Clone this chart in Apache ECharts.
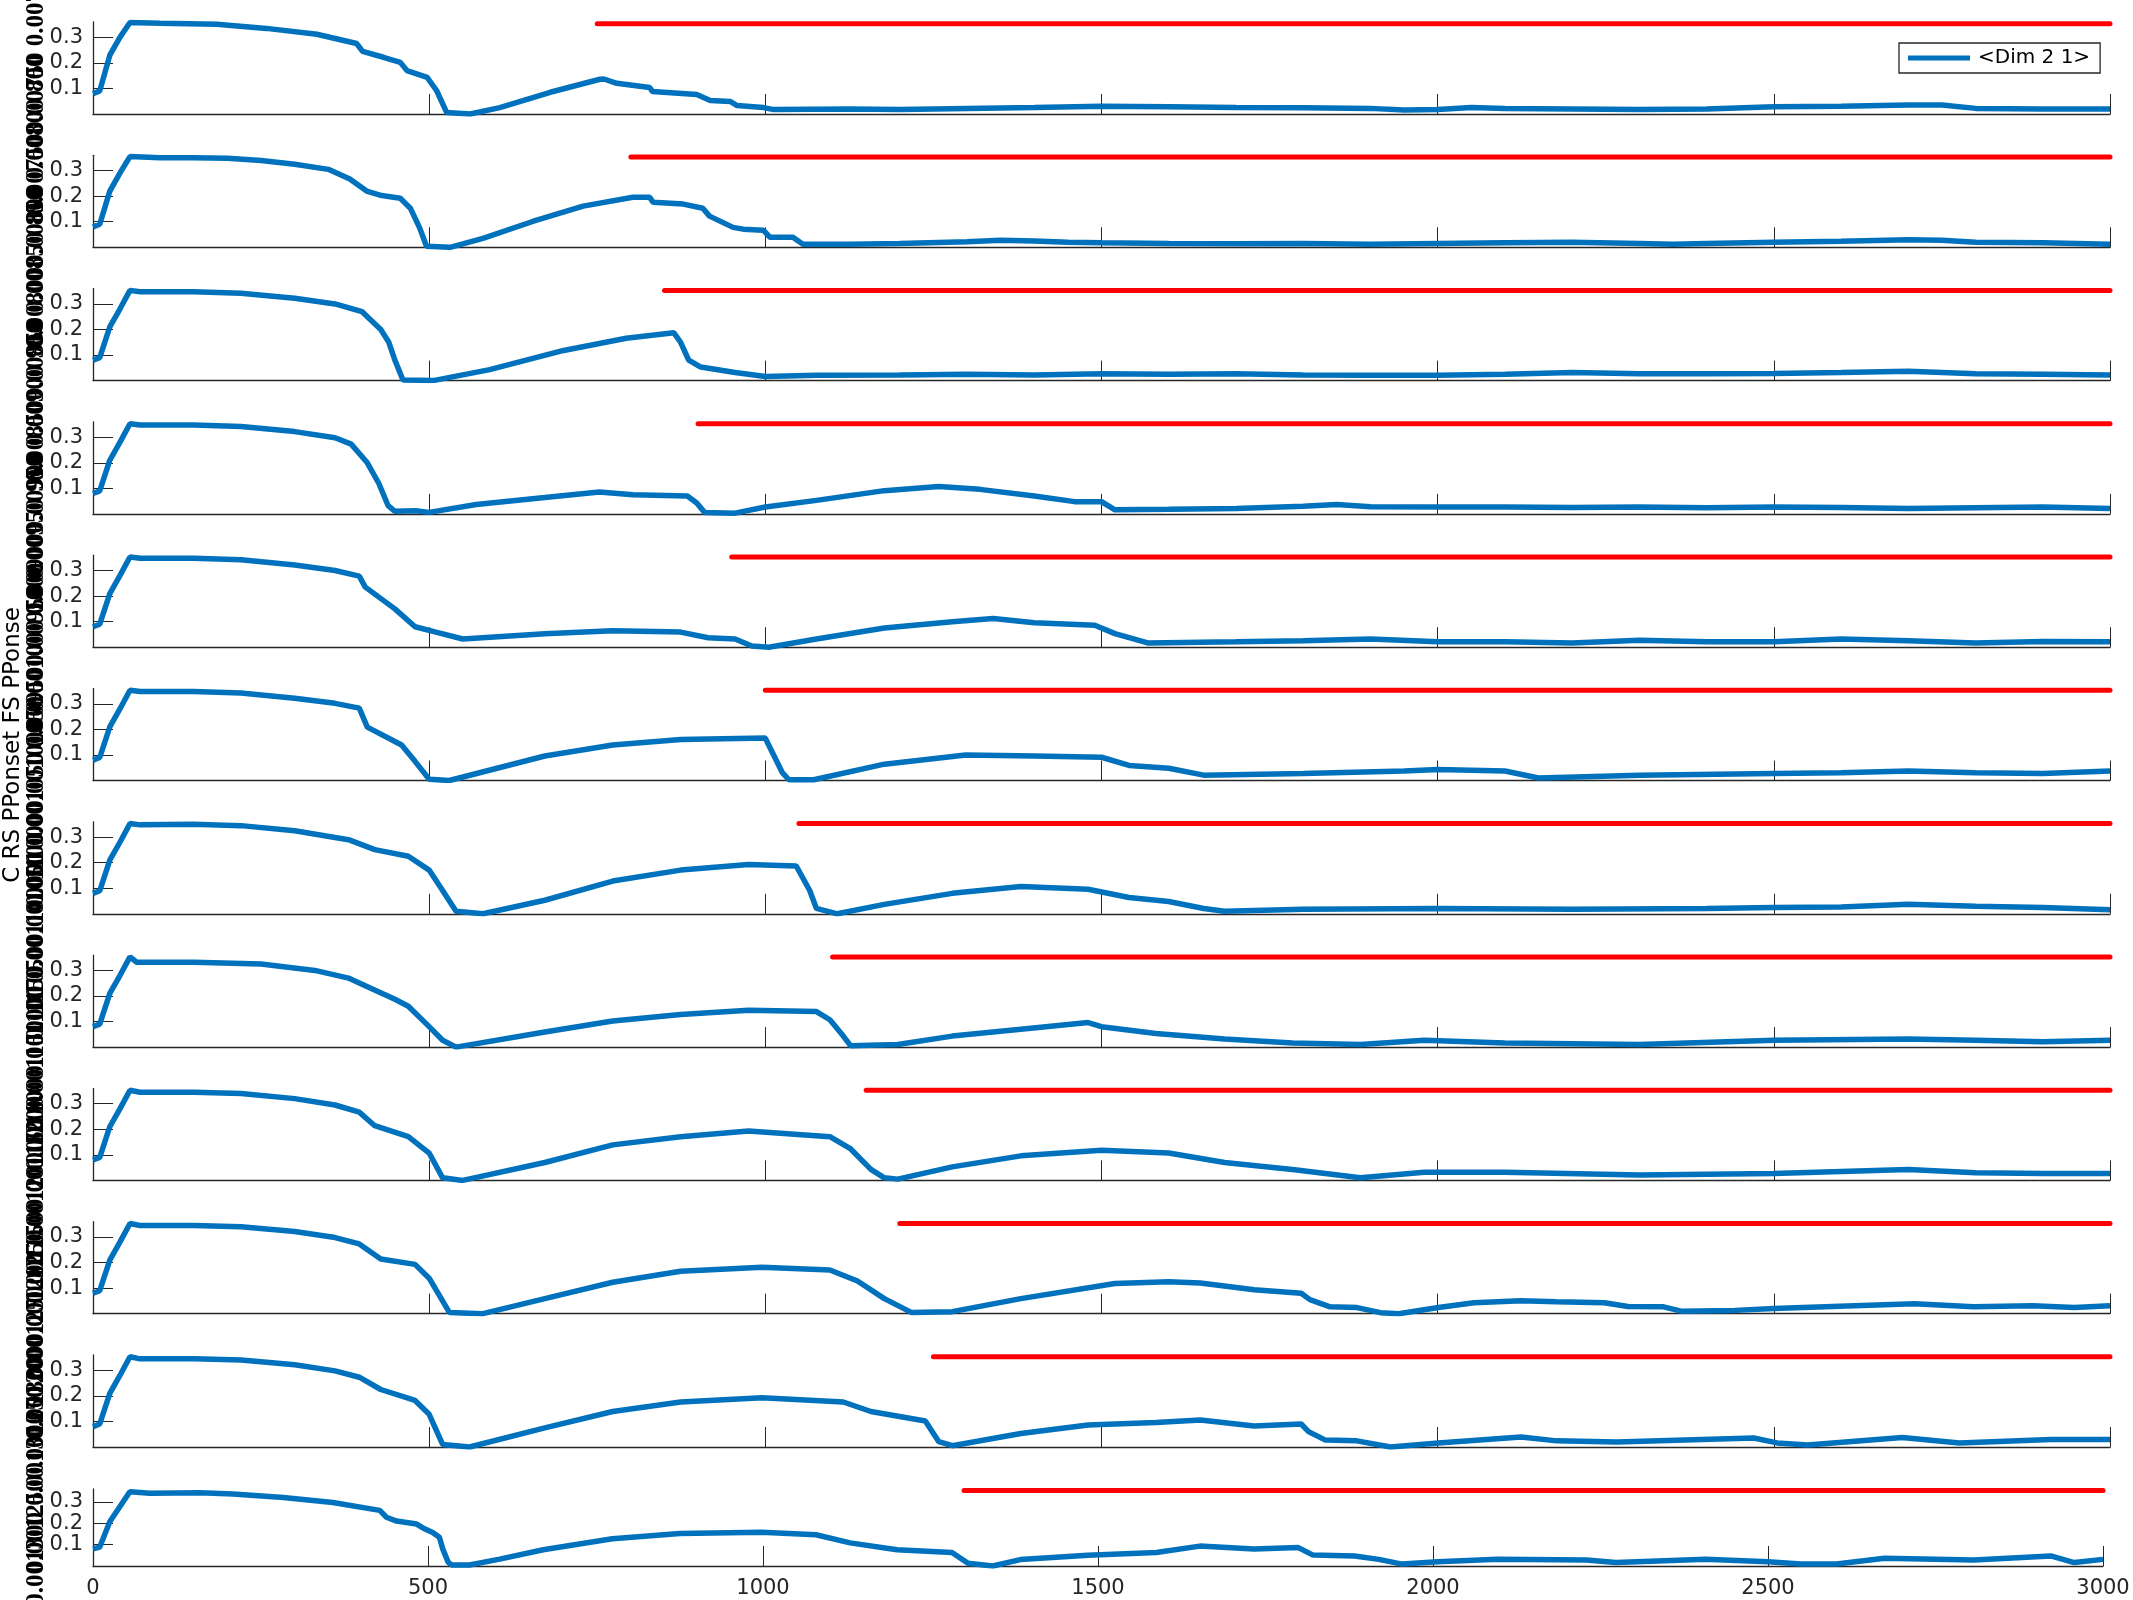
<!DOCTYPE html>
<html>
<head>
<meta charset="utf-8">
<script src="https://cdn.jsdelivr.net/npm/echarts@6/dist/echarts.min.js"></script>
<style>
  html, body { margin: 0; padding: 0; background: #fff; }
  #chart { width: 2133px; height: 1600px; }
</style>
</head>
<body>
<div id="chart"></div>
<script>
// onset of each red line, one per panel
const onsets = [750, 800, 850, 900, 950, 1000, 1050, 1100, 1150, 1200, 1250, 1300];
const redLevel = 0.353;
const yTicks = [0.1, 0.2, 0.3];

// blue traces, [x, value]
const s1 = [[0,0.08],[10,0.09],[25,0.23],[40,0.3],[55,0.358],[100,0.355],[184,0.351],[258,0.335],[333,0.312],[392,0.276],[401,0.245],[432,0.222],[457,0.202],[467,0.17],[497,0.143],[511,0.092],[526,0.006],[561,0],[605,0.025],[680,0.085],[754,0.136],[760,0.137],[779,0.12],[828,0.104],[832,0.088],[898,0.076],[918,0.053],[948,0.049],[958,0.033],[997,0.025],[1011,0.018],[1126,0.02],[1200,0.018],[1300,0.022],[1400,0.025],[1500,0.03],[1600,0.028],[1700,0.025],[1800,0.024],[1900,0.022],[1950,0.016],[2000,0.018],[2050,0.025],[2100,0.022],[2200,0.02],[2300,0.018],[2400,0.02],[2500,0.028],[2600,0.03],[2700,0.035],[2750,0.035],[2800,0.022],[2900,0.02],[3000,0.02]];
const s2 = [[0,0.08],[10,0.09],[25,0.22],[40,0.29],[55,0.355],[100,0.35],[150,0.35],[200,0.348],[250,0.34],[300,0.325],[350,0.305],[382,0.267],[407,0.22],[427,0.204],[457,0.192],[472,0.153],[486,0.075],[496,0.004],[531,0],[580,0.035],[655,0.102],[729,0.161],[803,0.196],[828,0.196],[833,0.176],[878,0.169],[907,0.153],[917,0.122],[952,0.078],[967,0.071],[997,0.067],[1007,0.039],[1041,0.039],[1056,0.012],[1126,0.012],[1200,0.015],[1300,0.022],[1350,0.028],[1400,0.025],[1450,0.02],[1500,0.018],[1600,0.015],[1700,0.014],[1800,0.015],[1900,0.012],[2000,0.015],[2100,0.018],[2200,0.02],[2300,0.015],[2350,0.012],[2400,0.015],[2500,0.02],[2600,0.024],[2700,0.03],[2750,0.028],[2800,0.02],[2900,0.018],[3000,0.012]];
const s3 = [[0,0.08],[10,0.09],[25,0.21],[40,0.28],[55,0.353],[70,0.348],[150,0.348],[220,0.342],[300,0.322],[360,0.3],[400,0.27],[410,0.245],[428,0.2],[440,0.15],[449,0.08],[461,0.002],[506,0],[590,0.043],[700,0.118],[793,0.166],[864,0.187],[874,0.15],[886,0.08],[904,0.053],[955,0.032],[1000,0.016],[1076,0.021],[1200,0.022],[1300,0.025],[1400,0.022],[1500,0.027],[1600,0.025],[1700,0.027],[1800,0.022],[1900,0.021],[2000,0.021],[2100,0.025],[2200,0.032],[2300,0.027],[2400,0.027],[2500,0.028],[2600,0.032],[2700,0.037],[2800,0.027],[2900,0.025],[3000,0.022]];
const s4 = [[0,0.08],[10,0.09],[25,0.21],[40,0.28],[55,0.353],[70,0.348],[150,0.348],[220,0.342],[300,0.322],[360,0.298],[384,0.273],[408,0.2],[425,0.12],[439,0.032],[449,0.01],[480,0.012],[500,0.006],[570,0.037],[672,0.064],[753,0.086],[803,0.075],[884,0.07],[898,0.043],[910,0.005],[955,0.003],[1000,0.027],[1076,0.053],[1177,0.091],[1258,0.107],[1319,0.096],[1400,0.07],[1460,0.048],[1500,0.048],[1520,0.016],[1600,0.018],[1700,0.021],[1800,0.03],[1850,0.037],[1900,0.028],[2000,0.027],[2100,0.027],[2200,0.025],[2300,0.027],[2400,0.024],[2500,0.027],[2600,0.025],[2700,0.021],[2800,0.024],[2900,0.027],[3000,0.021]];
const s5 = [[0,0.08],[10,0.09],[25,0.21],[40,0.28],[55,0.353],[70,0.348],[150,0.348],[220,0.342],[300,0.322],[360,0.3],[396,0.278],[405,0.235],[449,0.15],[479,0.08],[510,0.059],[550,0.032],[672,0.053],[773,0.064],[874,0.059],[915,0.037],[955,0.032],[980,0.005],[1005,0],[1076,0.032],[1177,0.075],[1278,0.1],[1339,0.112],[1400,0.096],[1490,0.086],[1520,0.053],[1570,0.016],[1700,0.021],[1800,0.025],[1900,0.032],[2000,0.021],[2100,0.021],[2200,0.016],[2300,0.027],[2400,0.021],[2500,0.021],[2600,0.032],[2700,0.025],[2800,0.016],[2900,0.022],[3000,0.021]];
const s6 = [[0,0.08],[10,0.09],[25,0.21],[40,0.28],[55,0.353],[70,0.348],[150,0.348],[220,0.342],[300,0.322],[360,0.302],[396,0.283],[408,0.209],[459,0.139],[479,0.075],[500,0.005],[530,0],[672,0.096],[773,0.139],[874,0.16],[1000,0.166],[1007,0.128],[1025,0.032],[1035,0.003],[1072,0.003],[1177,0.064],[1298,0.1],[1400,0.096],[1500,0.091],[1541,0.059],[1600,0.048],[1652,0.021],[1800,0.027],[1950,0.037],[2000,0.043],[2100,0.037],[2150,0.01],[2300,0.021],[2500,0.027],[2600,0.03],[2700,0.037],[2800,0.03],[2900,0.027],[3000,0.037]];
const s7 = [[0,0.08],[10,0.09],[25,0.21],[40,0.28],[55,0.353],[70,0.348],[150,0.35],[220,0.345],[300,0.325],[380,0.29],[419,0.251],[469,0.225],[500,0.171],[520,0.091],[540,0.01],[580,0],[672,0.053],[773,0.128],[874,0.171],[975,0.193],[1046,0.187],[1066,0.091],[1076,0.021],[1107,0],[1177,0.037],[1278,0.08],[1380,0.107],[1480,0.096],[1541,0.064],[1600,0.048],[1652,0.021],[1683,0.01],[1800,0.018],[2000,0.021],[2200,0.018],[2400,0.021],[2500,0.025],[2600,0.027],[2700,0.037],[2800,0.03],[2900,0.025],[3000,0.016]];
const s8 = [[0,0.08],[10,0.09],[25,0.21],[40,0.28],[55,0.353],[65,0.332],[150,0.332],[250,0.325],[330,0.3],[380,0.27],[396,0.251],[449,0.187],[469,0.16],[500,0.08],[520,0.027],[540,0],[672,0.059],[773,0.102],[874,0.128],[975,0.144],[1076,0.139],[1096,0.107],[1116,0.043],[1127,0.005],[1197,0.01],[1278,0.043],[1380,0.07],[1480,0.096],[1500,0.08],[1581,0.053],[1683,0.032],[1784,0.016],[1885,0.01],[1980,0.027],[2100,0.016],[2300,0.01],[2500,0.027],[2700,0.032],[2800,0.027],[2900,0.021],[3000,0.027]];
const s9 = [[0,0.08],[10,0.09],[25,0.21],[40,0.28],[55,0.353],[70,0.345],[150,0.345],[220,0.34],[300,0.32],[360,0.295],[396,0.267],[419,0.214],[469,0.171],[500,0.107],[520,0.01],[550,0],[672,0.07],[773,0.139],[874,0.171],[975,0.193],[1096,0.171],[1127,0.123],[1157,0.043],[1177,0.01],[1197,0.005],[1278,0.053],[1380,0.096],[1500,0.118],[1600,0.107],[1683,0.07],[1784,0.043],[1885,0.01],[1980,0.032],[2100,0.032],[2300,0.021],[2500,0.027],[2700,0.043],[2800,0.03],[2900,0.027],[3000,0.027]];
const s10 = [[0,0.08],[10,0.09],[25,0.21],[40,0.28],[55,0.353],[70,0.345],[150,0.345],[220,0.34],[300,0.322],[360,0.298],[396,0.273],[428,0.214],[479,0.193],[500,0.139],[530,0.005],[580,0],[672,0.059],[773,0.123],[874,0.166],[995,0.182],[1096,0.171],[1137,0.128],[1177,0.059],[1217,0.005],[1278,0.008],[1380,0.059],[1520,0.118],[1600,0.125],[1647,0.12],[1727,0.094],[1797,0.08],[1810,0.055],[1840,0.027],[1880,0.024],[1915,0.004],[1942,0],[2001,0.024],[2054,0.043],[2124,0.051],[2177,0.047],[2248,0.043],[2283,0.028],[2336,0.027],[2362,0.01],[2442,0.013],[2500,0.02],[2620,0.031],[2709,0.039],[2797,0.027],[2885,0.031],[2947,0.024],[3000,0.031]];
const s11 = [[0,0.08],[10,0.09],[25,0.21],[40,0.28],[55,0.353],[70,0.345],[150,0.345],[220,0.34],[300,0.322],[360,0.298],[396,0.273],[428,0.225],[479,0.182],[500,0.128],[520,0.01],[560,0],[672,0.075],[773,0.139],[874,0.176],[995,0.193],[1116,0.176],[1157,0.139],[1238,0.102],[1258,0.021],[1278,0.005],[1380,0.053],[1480,0.086],[1581,0.096],[1647,0.106],[1727,0.082],[1797,0.09],[1808,0.06],[1833,0.027],[1880,0.024],[1930,0],[2001,0.016],[2124,0.039],[2177,0.024],[2266,0.02],[2470,0.035],[2505,0.016],[2550,0.008],[2691,0.037],[2776,0.016],[2912,0.029],[3000,0.029]];
const s12 = [[0,0.08],[10,0.088],[25,0.207],[55,0.347],[85,0.34],[160,0.342],[209,0.337],[284,0.32],[358,0.297],[428,0.26],[438,0.228],[453,0.21],[483,0.196],[493,0.177],[507,0.157],[517,0.134],[522,0.08],[530,0.018],[535,0.005],[562,0.005],[607,0.032],[672,0.076],[775,0.127],[876,0.152],[998,0.158],[1079,0.146],[1130,0.108],[1200,0.076],[1282,0.063],[1306,0.013],[1343,0],[1384,0.03],[1485,0.05],[1587,0.063],[1652,0.093],[1733,0.079],[1799,0.086],[1821,0.051],[1883,0.047],[1919,0.031],[1954,0.009],[2007,0.02],[2096,0.031],[2229,0.028],[2273,0.016],[2407,0.031],[2500,0.02],[2549,0.009],[2602,0.009],[2674,0.036],[2807,0.028],[2922,0.047],[2957,0.016],[3000,0.031]];
const traces = [s1, s2, s3, s4, s5, s6, s7, s8, s9, s10, s11, s12];

const ink = "#262626";
const n = traces.length;

var grids = [], xAxes = [], yAxes = [], series = [];
for (let i = 0; i < n; i++) {
  const last = i === n - 1;
  const bottomPx = last ? 1566 : 114 + 133.3 * i;
  const h = last ? 77 : 92;
  grids.push({
    left: 93, width: last ? 2010 : 2017, top: bottomPx - h, height: h,
    containLabel: false, outerBoundsMode: "none"
  });

  xAxes.push({
    gridIndex: i, type: "value", min: 0, max: 3000, interval: 500,
    axisLine: { show: true, onZero: false, lineStyle: { color: ink, width: 1.3 } },
    axisTick: { show: true, inside: true, length: 20, lineStyle: { color: ink } },
    axisLabel: { show: last, fontSize: 21, color: ink, margin: 12, fontFamily: "DejaVu Sans",
      formatter: v => String(v) },
    splitLine: { show: false }
  });

  // the overlapping rotated labels on the left
  const on = onsets[i];
  yAxes.push({
    gridIndex: i, type: "value", min: 0, max: 0.36,
    name: "0.00" + on + "0.00" + on + " 0.00" + on + " " + on,
    nameLocation: "middle", nameRotate: 90, nameGap: 44, nameMoveOverlap: false,
    nameTextStyle: { fontSize: 25, color: "#000", fontFamily: "Liberation Serif", fontWeight: "bold" },
    axisLine: { show: true, lineStyle: { color: ink, width: 1.3 } },
    axisTick: { show: true, inside: true, length: 20, customValues: yTicks, lineStyle: { color: ink } },
    axisLabel: { fontSize: 21, color: ink, margin: 10, customValues: yTicks, fontFamily: "DejaVu Sans" },
    splitLine: { show: false }
  });

  series.push({
    name: "<Dim 2 1>", type: "line", xAxisIndex: i, yAxisIndex: i,
    data: traces[i], showSymbol: false, symbol: "none",
    lineStyle: { color: "#0072BD", width: 5.5 }, itemStyle: { color: "#0072BD" }, z: 3
  });
  series.push({
    name: "onset", type: "line", xAxisIndex: i, yAxisIndex: i,
    data: [[on, redLevel], [3000, redLevel]], showSymbol: false, symbol: "none",
    lineStyle: { color: "#FF0000", width: 5, cap: "round" }, z: 2
  });
}

var myChart = echarts.init(document.getElementById("chart"));
var option = {
  animation: false,
  backgroundColor: "#fff",
  grid: grids,
  xAxis: xAxes,
  yAxis: yAxes,
  legend: {
    data: ["<Dim 2 1>"],
    left: 1899, top: 43,
    padding: [5, 10, 5, 9],
    borderColor: ink, borderWidth: 1.3,
    icon: "rect", itemWidth: 62, itemHeight: 5,
    textStyle: { fontSize: 20, color: "#000", fontFamily: "DejaVu Sans", padding: [0, 0, 0, 3] }
  },
  graphic: [{
    type: "text", x: 13, y: 745, rotation: Math.PI / 2,
    style: { text: "C RS PPonset FS PPonse", fill: "#000",
      font: "23px 'DejaVu Sans'", textAlign: "center", textVerticalAlign: "middle" }
  }],
  series: series
};
myChart.setOption(option);
</script>
</body>
</html>
